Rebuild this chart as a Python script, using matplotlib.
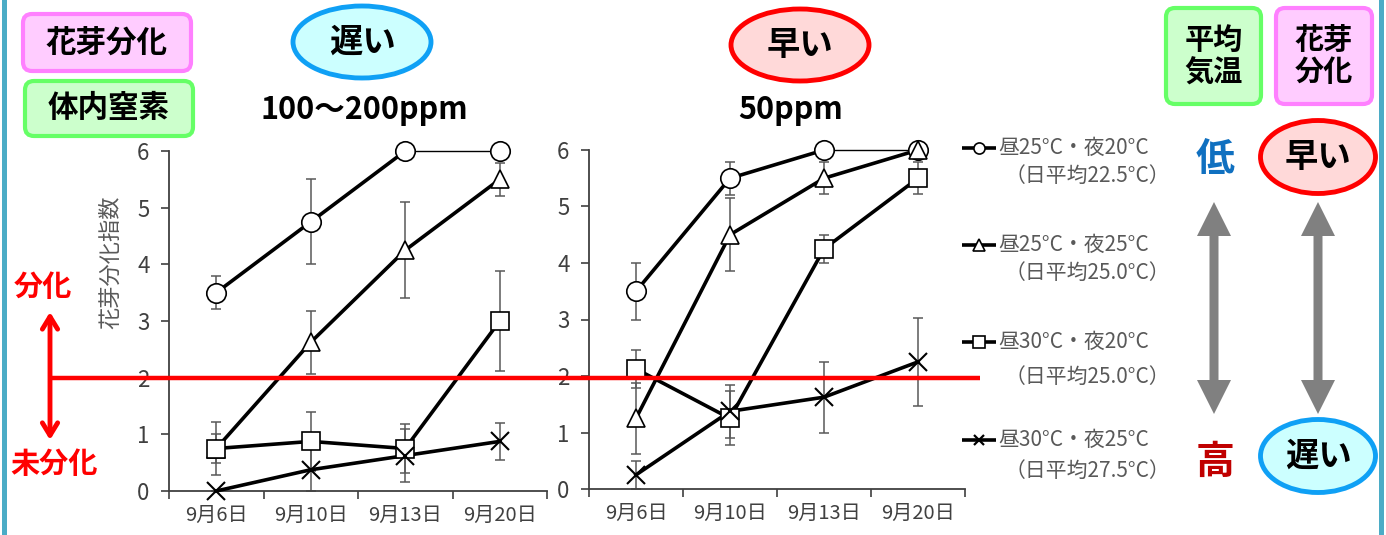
import matplotlib
matplotlib.use("Agg")
import matplotlib.pyplot as plt
from matplotlib.patches import Ellipse, FancyBboxPatch, Polygon, Rectangle
from matplotlib.transforms import blended_transform_factory

plt.rcParams['font.family'] = ['Noto Sans CJK JP', 'DejaVu Sans']

# ---------------- data ----------------
dates = ['9月6日', '9月10日', '9月13日', '9月20日']

# 遅い (100~200ppm)
late_circle = [3.5, 4.75, 6.0, 6.0]
late_circle_err = [0.29, 0.75, 0.0, 0.0]
late_tri = [0.75, 2.625, 4.25, 5.5]
late_tri_err = [0.25, 0.56, 0.85, 0.29]
late_sq = [0.75, 0.875, 0.75, 3.0]
late_sq_err = [0.47, 0.52, 0.44, 0.89]
late_x = [0.0, 0.375, 0.625, 0.875]
late_x_err = [0.0, 0.375, 0.47, 0.32]

# 早い (50ppm)
early_circle = [3.5, 5.5, 6.0, 6.0]
early_circle_err = [0.5, 0.29, 0.0, 0.0]
early_tri = [1.25, 4.5, 5.5, 6.0]
early_tri_err = [0.63, 0.65, 0.28, 0.0]
early_sq = [2.125, 1.25, 4.25, 5.5]
early_sq_err = [0.33, 0.48, 0.25, 0.28]
early_x = [0.25, 1.375, 1.625, 2.25]
early_x_err = [0.25, 0.47, 0.63, 0.78]

legend_labels = ['昼25°C・夜20°C', '昼25°C・夜25°C', '昼30°C・夜20°C', '昼30°C・夜25°C']
legend_sub = ['（日平均22.5°C）', '（日平均25.0°C）', '（日平均25.0°C）', '（日平均27.5°C）']
markers = ['o', '^', 's', 'x']
threshold = 2
yticks = [0, 1, 2, 3, 4, 5, 6]

W, H = 1386, 535
fig = plt.figure(figsize=(W / 100, H / 100), dpi=100)
fig.patch.set_facecolor('white')

TICK_C = '#404040'
ERR_C = '#595959'


def make_axes(x0, x1, ytop, ybot):
    return fig.add_axes([x0 / W, (H - ybot) / H, (x1 - x0) / W, (ybot - ytop) / H])


def style_axes(ax):
    ax.set_xlim(-0.5, 3.5)
    ax.set_ylim(0, 6)
    for s in ['top', 'right']:
        ax.spines[s].set_visible(False)
    for s in ['left', 'bottom']:
        ax.spines[s].set_color(TICK_C)
        ax.spines[s].set_linewidth(1.3)
    ax.set_yticks(yticks)
    ax.tick_params(axis='y', direction='out', length=6, width=1.2, color=TICK_C,
                   labelsize=16, labelcolor=TICK_C, pad=8)
    ax.set_xticks([-0.5, 0.5, 1.5, 2.5, 3.5])
    ax.set_xticklabels([])
    ax.tick_params(axis='x', which='major', direction='out', length=6, width=1.2, color=TICK_C)
    ax.set_xticks(range(len(dates)), minor=True)
    ax.set_xticklabels(dates, minor=True)
    ax.tick_params(axis='x', which='minor', length=0, labelsize=14.5,
                   labelcolor=TICK_C, pad=10)
    ax.patch.set_alpha(0)


def plot_panel(ax, series, errs):
    xs = list(range(len(dates)))
    for vals, err in zip(series, errs):
        ax.errorbar(xs, vals, yerr=err, fmt='none', ecolor=ERR_C, elinewidth=1.1,
                    capsize=3.5, capthick=1.1, zorder=2, clip_on=False)
    for i, (vals, m) in enumerate(zip(series, markers)):
        if i == 0:
            # last segment of the circle series is drawn thin
            ax.plot(xs[:3], vals[:3], color='black', lw=2.6, zorder=3, clip_on=False)
            ax.plot(xs[2:], vals[2:], color='black', lw=1.0, zorder=3, clip_on=False)
        else:
            ax.plot(xs, vals, color='black', lw=2.6, zorder=3, clip_on=False)
        if m == 'x':
            ax.plot(xs, vals, ls='none', marker='x', ms=12.5, mew=1.5, color='black',
                    zorder=4, clip_on=False)
        else:
            ms = 14 if m == 'o' else 13.5
            ax.plot(xs, vals, ls='none', marker=m, ms=ms, mew=1.2, mfc='white',
                    mec='black', zorder=4, clip_on=False)


ax1 = make_axes(169, 547, 151, 491)
style_axes(ax1)
plot_panel(ax1, [late_circle, late_tri, late_sq, late_x],
           [late_circle_err, late_tri_err, late_sq_err, late_x_err])

ax2 = make_axes(589, 965, 150, 489)
style_axes(ax2)
plot_panel(ax2, [early_circle, early_tri, early_sq, early_x],
           [early_circle_err, early_tri_err, early_sq_err, early_x_err])

# ---------------- overlay (pixel coordinates) ----------------
ov = fig.add_axes([0, 0, 1, 1], zorder=10)
ov.set_xlim(0, W)
ov.set_ylim(H, 0)
ov.axis('off')
ov.patch.set_visible(False)

# frame lines
ov.add_patch(Rectangle((2, 0), 5, H, color='#4BACC6', lw=0))
ov.add_patch(Rectangle((1379, 0), 5, H, color='#4BACC6', lw=0))


def rbox(x0, y0, x1, y1, fc, ec, text, fs, ls=1.0):
    ov.add_patch(FancyBboxPatch((x0, y0), x1 - x0, y1 - y0,
                                boxstyle='round,pad=0,rounding_size=9',
                                fc=fc, ec=ec, lw=3))
    ov.text((x0 + x1) / 2, (y0 + y1) / 2, text, ha='center', va='center',
            fontsize=fs, fontweight='bold', color='black', linespacing=ls)


def ell(cx, cy, w, h, fc, ec, text, fs):
    ov.add_patch(Ellipse((cx, cy), w, h, fc=fc, ec=ec, lw=3.5))
    ov.text(cx, cy, text, ha='center', va='center', fontsize=fs,
            fontweight='bold', color='black')


PINK_F, PINK_E = '#FFCCFF', '#FF80FF'
GREEN_F, GREEN_E = '#CCFFCC', '#66FF66'
CYAN_F, CYAN_E = '#CCFFFF', '#0FA0F5'
RED_F, RED_E = '#FFD9D9', '#FF0000'

rbox(23, 14, 191, 71, PINK_F, PINK_E, '花芽分化', 22)
rbox(25, 81, 193, 136, GREEN_F, GREEN_E, '体内窒素', 22)
rbox(1166, 8, 1261, 104, GREEN_F, GREEN_E, '平均\n気温', 21, 1.1)
rbox(1276, 8, 1372, 104, PINK_F, PINK_E, '花芽\n分化', 21, 1.1)

ell(362, 42, 138, 72, CYAN_F, CYAN_E, '遅い', 24)
ell(800, 45, 138, 72, RED_F, RED_E, '早い', 24)
ov.text(364, 110, '100～200ppm', ha='center', va='center', fontsize=22,
        fontweight='bold', color='black')
ov.text(791, 110, '50ppm', ha='center', va='center', fontsize=22,
        fontweight='bold', color='black')

ell(1318, 157, 115, 73, RED_F, RED_E, '早い', 24)
ell(1318, 456, 115, 73, CYAN_F, CYAN_E, '遅い', 24)
ov.text(1215, 160, '低', ha='center', va='center', fontsize=28,
        fontweight='bold', color='#1070C0')
ov.text(1215, 462, '高', ha='center', va='center', fontsize=28,
        fontweight='bold', color='#C00000')


def gray_arrow(cx, ytop, ybot, hw=17, hl=34, sw=4.5):
    pts = [(cx, ytop), (cx + hw, ytop + hl), (cx + sw, ytop + hl),
           (cx + sw, ybot - hl), (cx + hw, ybot - hl), (cx, ybot),
           (cx - hw, ybot - hl), (cx - sw, ybot - hl), (cx - sw, ytop + hl),
           (cx - hw, ytop + hl)]
    ov.add_patch(Polygon(pts, closed=True, fc='#808080', ec='none'))


gray_arrow(1214, 202, 414)
gray_arrow(1318, 202, 414)

# y label
fig.text(111 / W, 1 - 262 / H, '花芽分化指数', rotation=90, ha='center', va='center',
         fontsize=16, color='#595959')

# threshold line (y in data coords of left axes)
tr = blended_transform_factory(ov.transData, ax1.transData)
ov.plot([50, 980], [threshold, threshold], color='#FF0000', lw=3.2, transform=tr,
        solid_capstyle='butt', zorder=5)

# red double arrow
ov.annotate('', xy=(50, 312), xytext=(50, 440),
            arrowprops=dict(arrowstyle='<->,head_length=0.9,head_width=0.55',
                            color='#FF0000', lw=3.5, shrinkA=0, shrinkB=0))
ov.text(43, 287, '分化', ha='center', va='center', fontsize=21,
        fontweight='bold', color='#FF0000')
ov.text(54, 464, '未分化', ha='center', va='center', fontsize=21,
        fontweight='bold', color='#FF0000')

# legend
leg_y1 = [148, 245, 342, 440]
leg_y2 = [176, 273, 377, 471]
for lab, sub, m, y1, y2 in zip(legend_labels, legend_sub, markers, leg_y1, leg_y2):
    ov.plot([962, 996], [y1, y1], color='black', lw=2.6, solid_capstyle='butt')
    if m == 'x':
        ov.plot([979], [y1], marker='x', ms=7, mew=1.6, color='black')
    else:
        ov.plot([979], [y1], marker=m, ms=8, mew=1.2, mfc='white', mec='black')
    ov.text(998, y1, lab, ha='left', va='center', fontsize=15, color='#595959')
    ov.text(1170, y2, sub, ha='right', va='center', fontsize=15, color='#595959')

fig.savefig('out.png', dpi=100)
